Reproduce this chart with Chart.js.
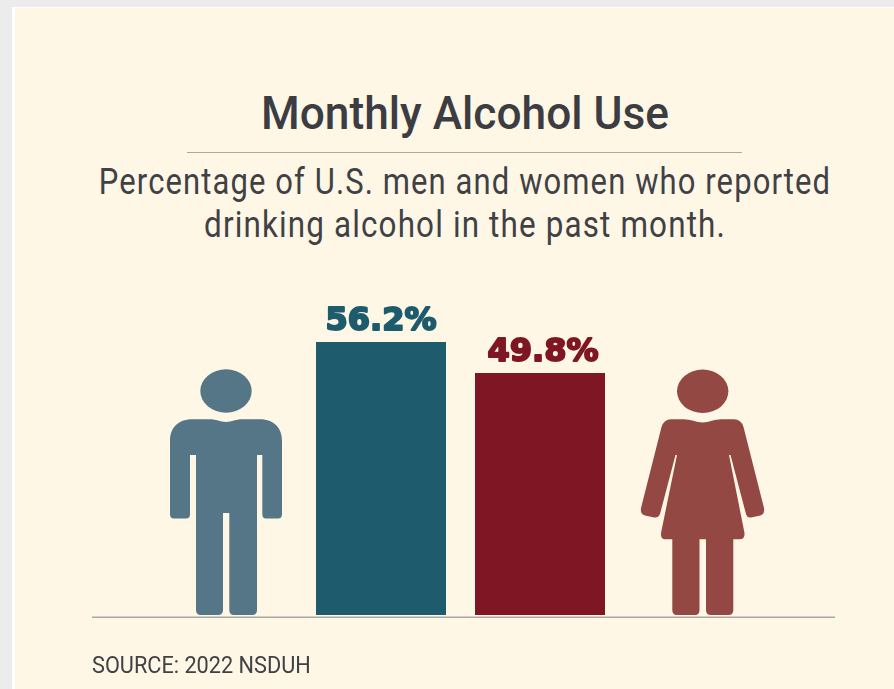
<!DOCTYPE html>
<html>
<head>
<meta charset="utf-8">
<title>Monthly Alcohol Use</title>
<script src="https://cdn.jsdelivr.net/npm/chart.js@4"></script>
<style>
  html, body { margin: 0; padding: 0; background: #ececec; overflow: hidden; }
  #page { position: absolute; left: 12px; top: 7px; width: 882px; height: 682px; background: #fff; }
  #panel { position: absolute; left: 15px; top: 8px; width: 879px; height: 681px; background: #fff7e5; }
  #chart, #icons { position: absolute; left: 0; top: 0; }
  .txt { position: absolute; white-space: nowrap; color: #3f4145; font-family: "Roboto", sans-serif; }
  .center { left: 465px; }
  #title { top: 87px; font-size: 46px; line-height: 52px; font-weight: 500; color: #3b3d42; transform: translateX(-50%) scaleX(.962); }
  #rule { position: absolute; left: 187px; top: 152px; width: 555px; height: 1px; background: #a9a8a2; }
  .sub { font-size: 36px; line-height: 42px; letter-spacing: 1.3px; }
  #sub1 { top: 161px; transform: translateX(-50%) scaleX(.86); }
  #sub2 { top: 204px; transform: translateX(-50%) scaleX(.873); }
  #source { left: 92px; top: 652px; font-size: 23px; line-height: 27px; transform-origin: left center; transform: scaleX(.944); }
</style>
</head>
<body>
<div id="page"></div>
<div id="panel"></div>
<div id="title" class="txt center">Monthly Alcohol Use</div>
<div id="rule"></div>
<div id="sub1" class="txt center sub">Percentage of U.S. men and women who reported</div>
<div id="sub2" class="txt center sub">drinking alcohol in the past month.</div>
<svg id="icons" width="894" height="689">
  <ellipse cx="226" cy="391" rx="25.7" ry="21.7" fill="#557686"/>
  <path fill="#557686" d="M226 422 C220 422 216 419.3 210 419.3 L192 419.3 C178 419.3 170 428 170 441 L170 514 Q170 518.5 174 518.5 L186 518.5 Q190 518.5 190 514 L190 455 L196 455 L196 610 Q196 615 201 615 L218 615 Q223 615 223 610 L223 513 L229.3 513 L229.3 610 Q229.3 615 234 615 L252 615 Q257 615 257 610 L257 455 L262.3 455 L262.3 514 Q262.3 518.5 266 518.5 L278 518.5 Q282 518.5 282 514 L282 441 C282 428 274 419.3 260 419.3 L242 419.3 C236 419.3 232 422 226 422 Z"/>
  <ellipse cx="702.7" cy="391.3" rx="25.7" ry="21.7" fill="#944843"/>
  <path fill="#944843" d="M702.7 422.5 C697 422.5 690 419.3 684 419.3 L671 419.3 Q664 419.3 661.5 427 L641 508 Q640 514 645 515.5 L654 517.5 Q658.5 518 660 514 L675.5 455 L677 455 L661 533 Q660.5 539.3 665 539.3 L672.3 539.3 L672.3 610 Q672.3 615 677 615 L695 615 Q699.5 615 699.5 610 L699.5 539.3 L706 539.3 L706 610 Q706 615 711 615 L728.5 615 Q733.3 615 733.3 610 L733.3 539.3 L740 539.3 Q745 539.3 744.5 533 L729 455 L730.5 455 L746 514 Q747 518 751 517.5 L760.5 515.5 Q765 514 764 508 L743.5 427 Q741 419.3 734 419.3 L721 419.3 C715 419.3 708 422.5 702.7 422.5 Z"/>
</svg>
<canvas id="chart" width="894" height="689"></canvas>
<div id="source" class="txt">SOURCE: 2022 NSDUH</div>
<script>
const categories = ['Men', 'Women'];
const percentages = [56.2, 49.8];
const barColors = ['#1e5b6d', '#7e1723'];

// value labels above the bars and the long baseline under everything
const extras = {
    id: 'extras',
    afterDatasetsDraw(chart) {
        const ctx = chart.ctx;
        ctx.save();
        ctx.fillStyle = '#a8a8a4';
        ctx.fillRect(92, 616.5, 743, 1.5);
        ctx.font = 'bold 32px "DejaVu Sans"';
        ctx.textAlign = 'center';
        ctx.textBaseline = 'alphabetic';
        ctx.lineWidth = 2;
        ctx.lineJoin = 'round';
        chart.getDatasetMeta(0).data.forEach((bar, i) => {
            const label = percentages[i].toFixed(1) + '%';
            // the red label sits a little right of its bar centre in the original
            const x = bar.x + (i === 1 ? 3 : 0);
            ctx.fillStyle = barColors[i];
            ctx.strokeStyle = barColors[i];
            ctx.fillText(label, x, bar.y - 12);
            ctx.strokeText(label, x, bar.y - 12);
        });
        ctx.restore();
    }
};

new Chart(document.getElementById('chart').getContext('2d'), {
    type: 'bar',
    data: {
        labels: categories,
        datasets: [{
            label: 'Past month alcohol use',
            data: percentages,
            backgroundColor: barColors,
            borderWidth: 0,
            barPercentage: 0.8176,
            categoryPercentage: 1
        }]
    },
    options: {
        responsive: false,
        animation: false,
        layout: { padding: { left: 301.5, right: 274.5, top: 323.5, bottom: 74 } },
        plugins: { legend: { display: false }, tooltip: { enabled: false } },
        scales: {
            x: { display: false },
            y: { display: false, min: 0, max: 60 }
        }
    },
    plugins: [extras]
});
</script>
</body>
</html>
